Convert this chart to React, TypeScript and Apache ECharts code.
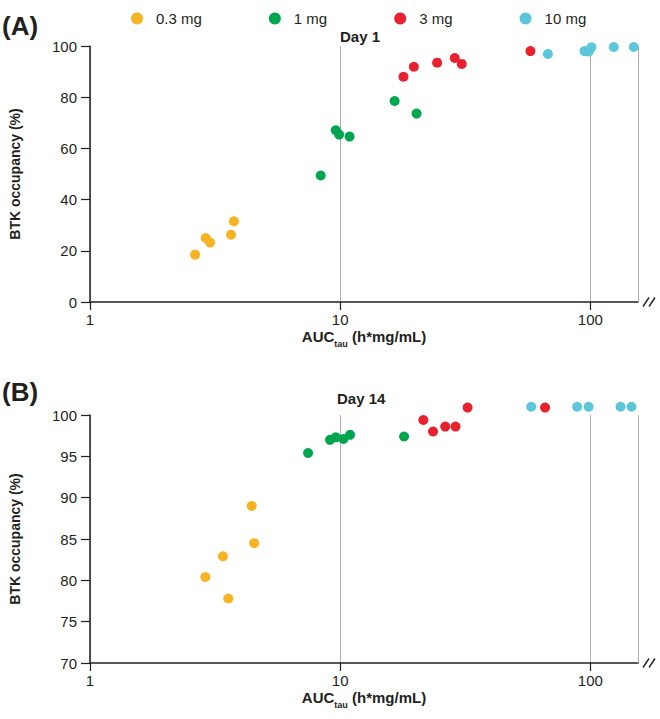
import React, { useEffect, useRef } from "react";
import * as echarts from "echarts";

const doseNames = ["0.3 mg", "1 mg", "3 mg", "10 mg"];
const doseColors = ["#F8B323", "#00A54F", "#E8212F", "#5CC6DA"];

// Day 1: AUCtau (h*mg/mL) and BTK occupancy (%)
const day1Auc03 = [2.63, 2.9, 3.02, 3.66, 3.76];
const day1Occ03 = [18.5, 25.0, 23.2, 26.3, 31.5];
const day1Auc1 = [8.36, 9.6, 9.9, 10.9, 16.5, 20.2];
const day1Occ1 = [49.4, 67.1, 65.4, 64.6, 78.5, 73.6];
const day1Auc3 = [17.9, 19.7, 24.4, 28.7, 30.6, 57.6];
const day1Occ3 = [88.0, 91.9, 93.5, 95.3, 93.0, 98.0];
const day1Auc10 = [67.6, 94.7, 98.5, 101, 124, 149];
const day1Occ10 = [96.9, 98.0, 97.9, 99.5, 99.6, 99.6];

// Day 14
const day14Auc03 = [4.43, 4.53, 3.4, 2.89, 3.57];
const day14Occ03 = [89.0, 84.5, 82.9, 80.4, 77.8];
const day14Auc1 = [7.44, 9.11, 9.6, 10.3, 10.95, 18.0];
const day14Occ1 = [95.4, 97.0, 97.3, 97.1, 97.6, 97.4];
const day14Auc3 = [21.5, 23.5, 26.3, 28.9, 32.3, 65.9];
const day14Occ3 = [99.4, 98.0, 98.6, 98.6, 100.9, 100.9];
const day14Auc10 = [58.0, 88.5, 98.4, 132, 146];
const day14Occ10 = [101, 101, 101, 101, 101];

const xTicks = [1, 10, 100];
const yTicksA = [0, 20, 40, 60, 80, 100];
const yTicksB = [70, 75, 80, 85, 90, 95, 100];

const FONT = "'Liberation Sans', Arial, Helvetica, sans-serif";
const INK = "#231f20";

const zip = (xs: number[], ys: number[]) => xs.map((x, i) => [x, ys[i]]);

export default function App() {
  const ref = useRef<HTMLDivElement>(null);

  useEffect(() => {
    if (!ref.current) return;
    const chart = echarts.init(ref.current, null, { renderer: "svg" });

    const day1 = [
      zip(day1Auc03, day1Occ03),
      zip(day1Auc1, day1Occ1),
      zip(day1Auc3, day1Occ3),
      zip(day1Auc10, day1Occ10),
    ];
    const day14 = [
      zip(day14Auc03, day14Occ03),
      zip(day14Auc1, day14Occ1),
      zip(day14Auc3, day14Occ3),
      zip(day14Auc10, day14Occ10),
    ];

    const grids = [
      { left: 89, top: 46, width: 549, height: 256 },
      { left: 89, top: 415, width: 549, height: 248 },
    ];

    const xAxisBase = (gridIndex: number) => ({
      type: "log",
      gridIndex,
      logBase: 10,
      min: 1,
      max: 155,
      axisLine: { show: true, lineStyle: { color: INK, width: 1.5 } },
      axisTick: { show: true, length: 8, lineStyle: { color: INK, width: 1.2 } },
      axisLabel: {
        show: true,
        margin: 10,
        fontSize: 15,
        color: INK,
        fontFamily: FONT,
        showMaxLabel: false,
        formatter: (v: number) => (xTicks.includes(Math.round(v)) ? String(Math.round(v)) : ""),
      },
      splitLine: { show: true, lineStyle: { color: "#b0b0b0", width: 1 } },
      minorSplitLine: { show: false },
      name: "{b|AUC}{s|tau}{b| (h*mg/mL)}",
      nameLocation: "middle",
      nameGap: 27,
      nameTextStyle: {
        rich: {
          b: {
            fontSize: 15,
            fontWeight: "bold",
            color: INK,
            fontFamily: FONT,
            padding: [0, 0, 4, 0],
            verticalAlign: "bottom",
          },
          s: {
            fontSize: 9,
            fontWeight: "bold",
            color: INK,
            fontFamily: FONT,
            verticalAlign: "bottom",
          },
        },
      },
    });

    const yAxisBase = (gridIndex: number, ticks: number[]) => ({
      type: "value",
      gridIndex,
      min: ticks[0],
      max: ticks[ticks.length - 1],
      interval: ticks[1] - ticks[0],
      axisLine: { show: true, lineStyle: { color: INK, width: 1.5 } },
      axisTick: { show: true, length: 9, lineStyle: { color: INK, width: 1.2 } },
      axisLabel: { margin: 13, fontSize: 15, color: INK, fontFamily: FONT },
      splitLine: { show: false },
      name: "BTK occupancy (%)",
      nameLocation: "middle",
      nameRotate: 90,
      nameGap: 68,
      nameTextStyle: { fontSize: 14, fontWeight: "bold", color: INK, fontFamily: FONT },
    });

    const series: any[] = [];
    [day1, day14].forEach((panel, gi) => {
      panel.forEach((data, k) => {
        series.push({
          type: "scatter",
          name: doseNames[k],
          xAxisIndex: gi,
          yAxisIndex: gi,
          data,
          symbol: "circle",
          symbolSize: 10,
          clip: false,
          itemStyle: { color: doseColors[k], opacity: 1 },
          z: 3,
        });
      });
    });

    const breakMark = (y: number) => ({
      type: "group",
      children: [
        { type: "line", shape: { x1: 643, y1: y + 4.5, x2: 649, y2: y - 4.5 }, style: { stroke: INK, lineWidth: 1.4 } },
        { type: "line", shape: { x1: 649, y1: y + 4.5, x2: 655, y2: y - 4.5 }, style: { stroke: INK, lineWidth: 1.4 } },
      ],
    });

    chart.setOption({
      animation: false,
      backgroundColor: "#ffffff",
      textStyle: { fontFamily: FONT },
      legend: {
        data: doseNames,
        left: 126,
        top: 6,
        icon: "circle",
        itemWidth: 12,
        itemHeight: 12,
        itemGap: 67,
        selectedMode: false,
        textStyle: { fontSize: 15, color: INK, fontFamily: FONT, padding: [0, 0, 0, 8] },
      },
      grid: grids,
      xAxis: [xAxisBase(0), xAxisBase(1)],
      yAxis: [yAxisBase(0, yTicksA), yAxisBase(1, yTicksB)],
      series,
      graphic: [
        { type: "text", left: 2, top: 13, style: { text: "(A)", fontSize: 26, fontWeight: "bold", fill: INK, fontFamily: FONT } },
        { type: "text", left: 2, top: 379, style: { text: "(B)", fontSize: 26, fontWeight: "bold", fill: INK, fontFamily: FONT } },
        { type: "text", left: 340, top: 29, style: { text: "Day 1", fontSize: 15, fontWeight: "bold", fill: INK, fontFamily: FONT } },
        { type: "text", left: 337, top: 391, style: { text: "Day 14", fontSize: 15, fontWeight: "bold", fill: INK, fontFamily: FONT } },
        breakMark(302),
        breakMark(663),
      ],
    });

    return () => chart.dispose();
  }, []);

  return <div ref={ref} style={{ width: 660, height: 719, position: "absolute", left: 0, top: 0 }} />;
}
